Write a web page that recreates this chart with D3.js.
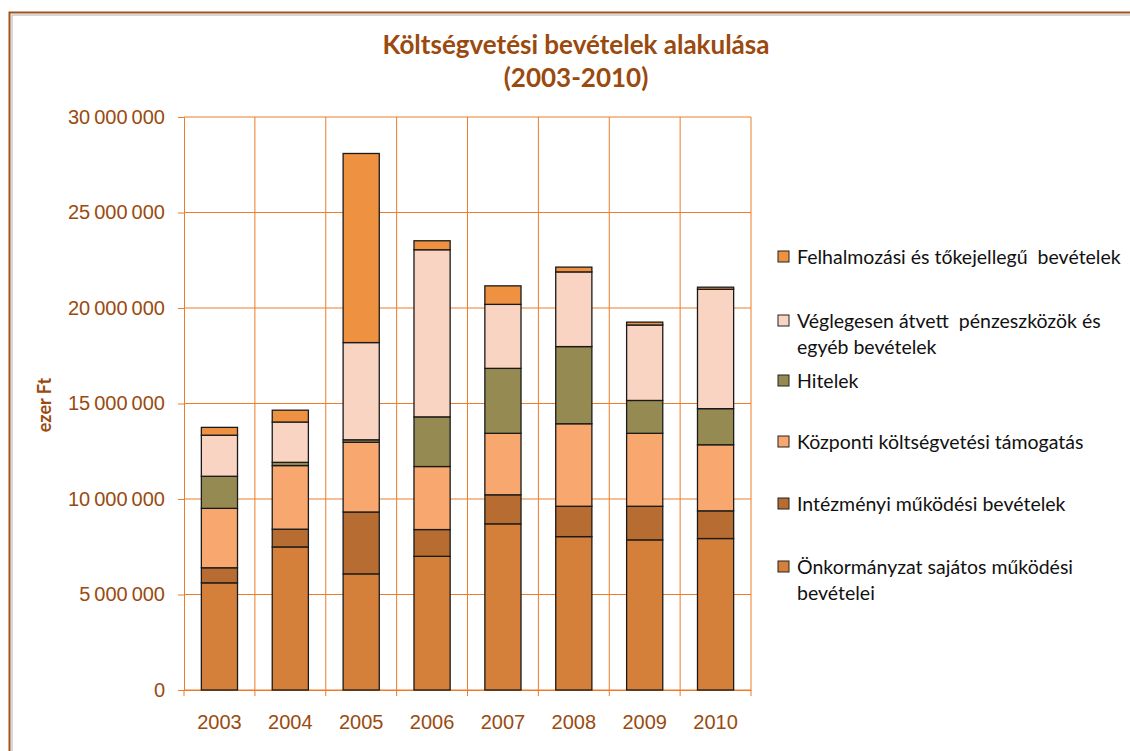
<!DOCTYPE html>
<html>
<head>
<meta charset="utf-8">
<script src="https://cdn.jsdelivr.net/npm/d3@7"></script>
<style>
  body { margin: 0; background: #fff; }
  svg { display: block; font-family: Lato, "Open Sans", sans-serif; }
</style>
</head>
<body>
<svg width="1130" height="751"></svg>
<script>
const years = ["2003", "2004", "2005", "2006", "2007", "2008", "2009", "2010"];

// ezer Ft, stacked from bottom up
const onkormanyzat = [5610000, 7490000, 6080000, 7000000, 8700000, 8030000, 7860000, 7930000];
const intezmenyi   = [790000, 930000, 3240000, 1400000, 1520000, 1590000, 1760000, 1450000];
const kozponti     = [3110000, 3330000, 3650000, 3300000, 3220000, 4320000, 3820000, 3460000];
const hitelek      = [1680000, 170000, 130000, 2600000, 3400000, 4040000, 1720000, 1890000];
const vegleges     = [2150000, 2110000, 5090000, 8750000, 3350000, 3910000, 3950000, 6250000];
const felhalmozasi = [410000, 620000, 9900000, 470000, 970000, 250000, 150000, 110000];

const yTicks = [0, 5000000, 10000000, 15000000, 20000000, 25000000, 30000000];

const series = [
  { key: "onk", name: ["Önkormányzat sajátos működési", "bevételei"], values: onkormanyzat, color: "#d4803a" },
  { key: "int", name: ["Intézményi működési bevételek"], values: intezmenyi, color: "#b76d31" },
  { key: "koz", name: ["Központi költségvetési támogatás"], values: kozponti, color: "#f8a86e" },
  { key: "hit", name: ["Hitelek"], values: hitelek, color: "#958b52" },
  { key: "veg", name: ["Véglegesen átvett  pénzeszközök és", "egyéb bevételek"], values: vegleges, color: "#f9d4c2" },
  { key: "fel", name: ["Felhalmozási és tőkejellegű  bevételek"], values: felhalmozasi, color: "#ee9242" }
];

const table = years.map((y, i) => {
  const row = { year: y };
  series.forEach(s => row[s.key] = s.values[i]);
  return row;
});

const svg = d3.select("svg");
const margin = { top: 117, right: 379, bottom: 61, left: 184 };
const width = 1130;
const height = 751;
const brown = "#9a4a0f";
const grid = "#ec7c2a";

// frame
svg.append("rect").attr("x", 9.5).attr("y", 12.5).attr("width", 1130).attr("height", 760)
  .attr("fill", "none").attr("stroke", "#a0541c").attr("stroke-width", 2);
svg.append("rect").attr("x", 12).attr("y", 15).attr("width", 1130).attr("height", 760)
  .attr("fill", "none").attr("stroke", "#bdbdbd").attr("stroke-width", 1.2);

const x = d3.scaleBand()
  .domain(years)
  .range([margin.left, width - margin.right])
  .paddingInner(0).paddingOuter(0);

const y = d3.scaleLinear()
  .domain([0, 30000000])
  .range([height - margin.bottom, margin.top]);

const fmt = v => d3.format(",")(v).replace(/,/g, "\u2009");

// horizontal grid
svg.append("g")
  .selectAll("line").data(yTicks).join("line")
  .attr("x1", margin.left).attr("x2", width - margin.right)
  .attr("y1", d => y(d)).attr("y2", d => y(d))
  .attr("stroke", grid).attr("stroke-width", 1);

// vertical grid at category boundaries
const bounds = years.map(d => x(d)).concat([x(years[years.length - 1]) + x.bandwidth()]);
svg.append("g")
  .selectAll("line").data(bounds.slice(1)).join("line")
  .attr("x1", d => d).attr("x2", d => d)
  .attr("y1", y(0)).attr("y2", y(30000000))
  .attr("stroke", grid).attr("stroke-width", 1);

// y axis
const yAxis = svg.append("g")
  .attr("transform", `translate(${margin.left},0)`)
  .call(d3.axisLeft(y).tickValues(yTicks).tickSize(6).tickPadding(13).tickFormat(v => v === 0 ? "0" : fmt(v)));
yAxis.select(".domain").attr("stroke", grid);
yAxis.selectAll(".tick line").attr("stroke", grid);
yAxis.selectAll(".tick text").attr("fill", brown).attr("font-size", 20);

// x axis
const xAxis = svg.append("g")
  .attr("transform", `translate(0,${y(0)})`)
  .call(d3.axisBottom(x).tickSize(0).tickPadding(25));
xAxis.select(".domain").attr("stroke", grid);
xAxis.selectAll(".tick text").attr("fill", brown).attr("font-size", 20);
xAxis.append("g").selectAll("line").data(bounds).join("line")
  .attr("x1", d => d).attr("x2", d => d).attr("y1", 0).attr("y2", 6)
  .attr("stroke", grid);

// stacked bars
const stack = d3.stack().keys(series.map(s => s.key))(table);
const barW = x.bandwidth() * 0.51;
svg.append("g")
  .selectAll("g").data(stack).join("g")
  .attr("fill", (d, i) => series[i].color)
  .selectAll("rect").data(d => d).join("rect")
  .attr("x", d => x(d.data.year) + (x.bandwidth() - barW) / 2)
  .attr("y", d => y(d[1]))
  .attr("width", barW)
  .attr("height", d => y(d[0]) - y(d[1]))
  .attr("stroke", "#1a1a1a").attr("stroke-width", 1.3);

// title
svg.append("text").attr("x", 576).attr("y", 54).attr("text-anchor", "middle")
  .attr("fill", brown).attr("font-size", 26).attr("font-weight", "bold")
  .text("Költségvetési bevételek alakulása");
svg.append("text").attr("x", 576).attr("y", 87).attr("text-anchor", "middle")
  .attr("fill", brown).attr("font-size", 26).attr("font-weight", "bold")
  .text("(2003-2010)");

// y axis title
svg.append("text")
  .attr("transform", `translate(51,${405}) rotate(-90)`)
  .attr("text-anchor", "middle")
  .attr("fill", brown).attr("font-size", 18).attr("font-weight", "bold")
  .text("ezer Ft");

// legend (reverse order, top = last series)
const legendY = [257, 321, 381, 442, 504, 567];
const legend = svg.append("g");
series.slice().reverse().forEach((s, i) => {
  const g = legend.append("g").attr("transform", `translate(778,${legendY[i]})`);
  g.append("rect").attr("x", 0).attr("y", -6).attr("width", 11).attr("height", 11)
    .attr("fill", s.color).attr("stroke", "#222").attr("stroke-width", 1);
  s.name.forEach((line, j) => {
    g.append("text").attr("x", 19).attr("y", 7 + j * 26)
      .attr("fill", "#111").attr("font-size", 19.5)
      .style("white-space", "pre")
      .text(line);
  });
});
</script>
</body>
</html>
